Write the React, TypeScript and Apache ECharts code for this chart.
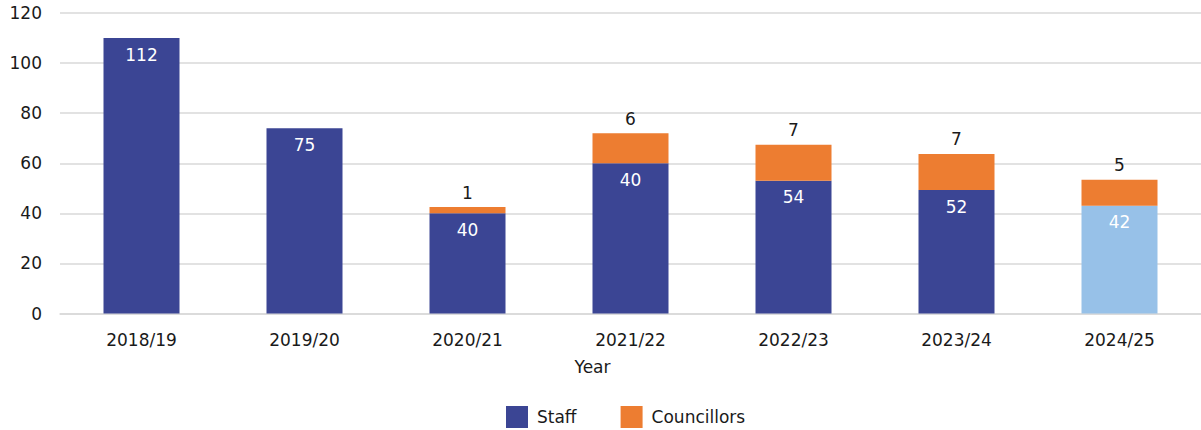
import React, { useEffect, useRef } from "react";
import * as echarts from "echarts";

const years = ["2018/19", "2019/20", "2020/21", "2021/22", "2022/23", "2023/24", "2024/25"];
// bar heights as drawn in the reference
const staffHeights = [110, 74, 40, 60, 53, 49.3, 43];
const councillorHeights = [null, null, 2.5, 12, 14.4, 14.4, 10.4];
// labels as printed in the reference
const staffLabels = ["112", "75", "40", "40", "54", "52", "42"];
const councillorLabels = ["", "", "1", "6", "7", "7", "5"];
const yTicks = [0, 20, 40, 60, 80, 100, 120];

const FONT = "'DejaVu Sans', sans-serif";
const DARK_BLUE = "#3B4594";
const LIGHT_BLUE = "#97C1E8";
const ORANGE = "#ED7D31";
const TEXT = "#1a1a1a";

export default function App() {
  const ref = useRef<HTMLDivElement>(null);
  useEffect(() => {
    if (!ref.current) return;
    const chart = echarts.init(ref.current, null, { renderer: "svg" });
    chart.setOption({
      animation: false,
      textStyle: { fontFamily: FONT },
      grid: { left: 60, right: 0, top: 13, bottom: 116.5, containLabel: false },
      legend: {
        top: 401,
        left: 501,
        itemWidth: 22,
        itemHeight: 22,
        itemGap: 44,
        icon: "rect",
        textStyle: { fontSize: 17, color: TEXT, fontFamily: FONT, padding: [0, 0, 0, 4] },
        data: ["Staff", "Councillors"],
      },
      xAxis: {
        type: "category",
        data: years,
        name: "Year",
        nameLocation: "middle",
        nameGap: 45,
        nameTextStyle: { fontSize: 17, color: TEXT, fontFamily: FONT, padding: [0, 76, 0, 0] },
        axisLine: { show: true, lineStyle: { color: "#d9d9d9", width: 1.5 } },
        axisTick: { show: false },
        axisLabel: { fontSize: 17, color: TEXT, margin: 18, fontFamily: FONT },
      },
      yAxis: {
        type: "value",
        min: yTicks[0],
        max: yTicks[yTicks.length - 1],
        interval: 20,
        axisLine: { show: false },
        axisTick: { show: false },
        axisLabel: { fontSize: 17, color: TEXT, margin: 18, fontFamily: FONT },
        splitLine: { lineStyle: { color: "#d9d9d9", width: 1.5 } },
      },
      series: [
        {
          name: "Staff",
          type: "bar",
          stack: "total",
          barWidth: 76,
          itemStyle: { color: DARK_BLUE },
          data: staffHeights.map((v, i) =>
            i === staffHeights.length - 1 ? { value: v, itemStyle: { color: LIGHT_BLUE } } : v
          ),
          label: {
            show: true,
            position: "insideTop",
            distance: 8,
            color: "#ffffff",
            fontSize: 17,
            fontFamily: FONT,
            formatter: (p: any) => staffLabels[p.dataIndex],
          },
        },
        {
          name: "Councillors",
          type: "bar",
          stack: "total",
          barWidth: 76,
          itemStyle: { color: ORANGE },
          data: councillorHeights,
          label: {
            show: true,
            position: "top",
            distance: 6,
            color: TEXT,
            fontSize: 17,
            fontFamily: FONT,
            formatter: (p: any) => councillorLabels[p.dataIndex],
          },
        },
      ],
    });
    return () => chart.dispose();
  }, []);
  return (
    <div
      ref={ref}
      style={{ position: "absolute", left: 0, top: 0, width: 1201, height: 430, background: "#fff" }}
    />
  );
}
